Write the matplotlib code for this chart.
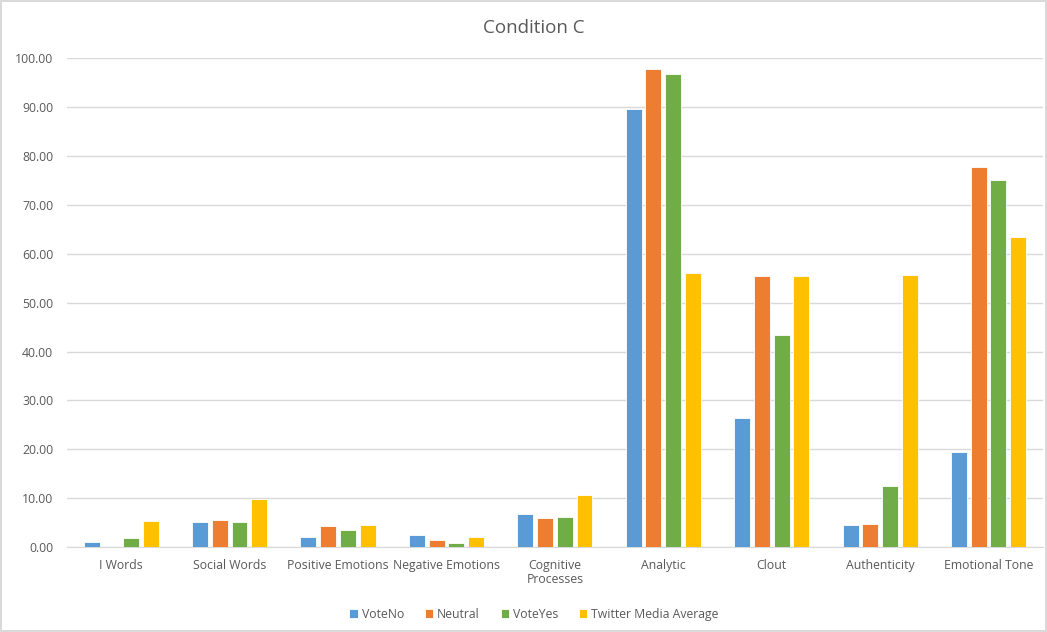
import numpy as np
import matplotlib.pyplot as plt
from matplotlib.ticker import FormatStrFormatter

categories = ["I Words", "Social Words", "Positive Emotions", "Negative Emotions",
              "Cognitive\nProcesses", "Analytic", "Clout", "Authenticity", "Emotional Tone"]
vote_no = [1.1, 5.2, 2.0, 2.5, 6.7, 89.7, 26.3, 4.5, 19.4]
neutral = [0.0, 5.5, 4.2, 1.5, 5.9, 97.8, 55.5, 4.7, 77.8]
vote_yes = [1.8, 5.2, 3.5, 0.8, 6.2, 96.8, 43.3, 12.4, 75.1]
twitter = [5.4, 9.9, 4.5, 2.0, 10.7, 56.0, 55.5, 55.7, 63.4]

series = [("VoteNo", vote_no, "#5B9BD5"),
          ("Neutral", neutral, "#ED7D31"),
          ("VoteYes", vote_yes, "#70AD47"),
          ("Twitter Media Average", twitter, "#FFC000")]

plt.rcParams['font.family'] = ['Open Sans', 'DejaVu Sans']
txt = "#595959"

fig = plt.figure(figsize=(10.47, 6.32), dpi=100)
fig.patch.set_edgecolor("#D9D9D9")
fig.patch.set_linewidth(1.5)
ax = fig.add_axes([0.064, 0.1345, 0.932, 0.7733])

x = np.arange(len(categories))
pitch = 0.182
width = 0.147
for i, (name, vals, col) in enumerate(series):
    ax.bar(x + (i - 1.5) * pitch, vals, width, color=col, label=name,
           edgecolor="white", linewidth=0.6, zorder=3)

ax.set_ylim(0, 100)
ax.set_xlim(-0.5, len(categories) - 0.5)
ax.set_yticks(np.arange(0, 101, 10))
ax.yaxis.set_major_formatter(FormatStrFormatter("%.2f"))
ax.grid(axis="y", color="#D9D9D9", linewidth=1, zorder=0)
for s in ["top", "right", "left"]:
    ax.spines[s].set_visible(False)
ax.spines["bottom"].set_color("#D9D9D9")
ax.tick_params(axis="both", length=0, colors=txt, labelsize=8.8)
ax.tick_params(axis="x", pad=8.5)
ax.tick_params(axis="y", pad=10)
ax.set_xticks(x)
ax.set_xticklabels(categories, linespacing=1.1, va="top")

fig.text(0.51, 1 - 28 / 632, "Condition C", ha="center", va="center",
         fontsize=13.5, color=txt)
fig.legend(loc="lower center", bbox_to_anchor=(0.51, 0.0), ncol=4, frameon=False,
           fontsize=8.8, labelcolor=txt, handlelength=0.7, handleheight=0.7,
           handletextpad=0.3, columnspacing=1.7)

fig.savefig("out.png", dpi=100, facecolor="white", edgecolor=fig.patch.get_edgecolor())
